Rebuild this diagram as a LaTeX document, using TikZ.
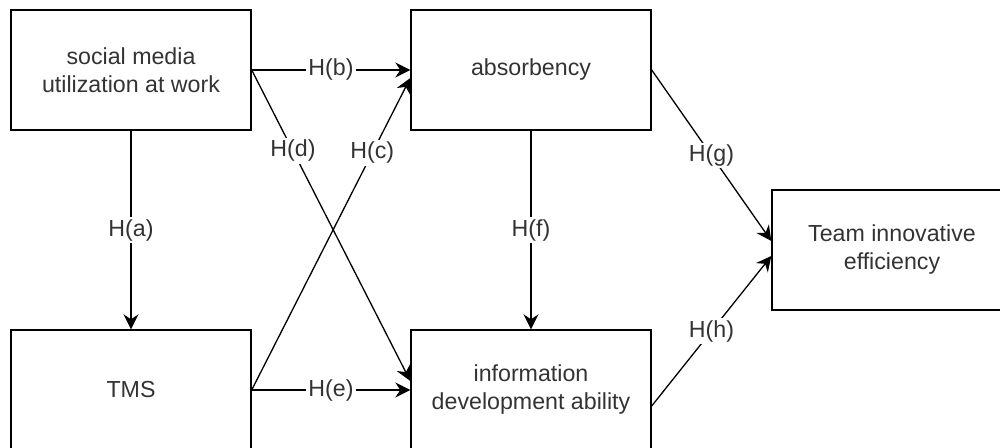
\documentclass[tikz,border=0pt]{standalone}
\usepackage{fontspec}
\setmainfont{Liberation Sans}
\usetikzlibrary{arrows.meta}
\begin{document}
\begin{tikzpicture}[x=0.5pt, y=-0.5pt,
    box/.style={draw, line width=0.7pt, minimum width=120pt, minimum height=60pt, align=center, text=black!80, font=\fontsize{11.6}{14}\selectfont},
    hyp/.style={->, >={Stealth[length=7.5pt, width=7.5pt, inset=2.5pt]}, line width=0.65pt},
    lbl/.style={fill=white, inner sep=1pt, text=black!80, font=\fontsize{11.6}{14}\selectfont}]
    \useasboundingbox (0, 0) rectangle (1000, 448);
    \node[box] (smu) at (131, 70) {social media\\utilization at work};
    \node[box] (abs) at (531, 70) {absorbency};
    \node[box] (tms) at (131, 390) {TMS};
    \node[box] (ida) at (531, 390) {information\\development ability};
    \node[box] (tie) at (892, 250) {Team innovative\\efficiency};
    \draw[hyp] (smu.south) -- (tms.north) node[midway, lbl] {H(a)};
    \draw[hyp] (smu.east) -- (abs.west) node[midway, lbl] {H(b)};
    \draw[hyp] (tms.east) -- ([yshift=-4pt]abs.west) node[pos=0.76, lbl] {H(c)};
    \draw[hyp] (smu.east) -- ([yshift=4.5pt]ida.west) node[pos=0.26, lbl] {H(d)};
    \draw[hyp] (tms.east) -- (ida.west) node[midway, lbl] {H(e)};
    \draw[hyp] (abs.south) -- (ida.north) node[midway, lbl] {H(f)};
    \draw[hyp] (abs.east) -- ([yshift=4.5pt]tie.west) node[midway, lbl] {H(g)};
    \draw[hyp] ([yshift=-8pt]ida.east) -- ([yshift=-3pt]tie.west) node[midway, lbl] {H(h)};
  \end{tikzpicture}
\end{document}
